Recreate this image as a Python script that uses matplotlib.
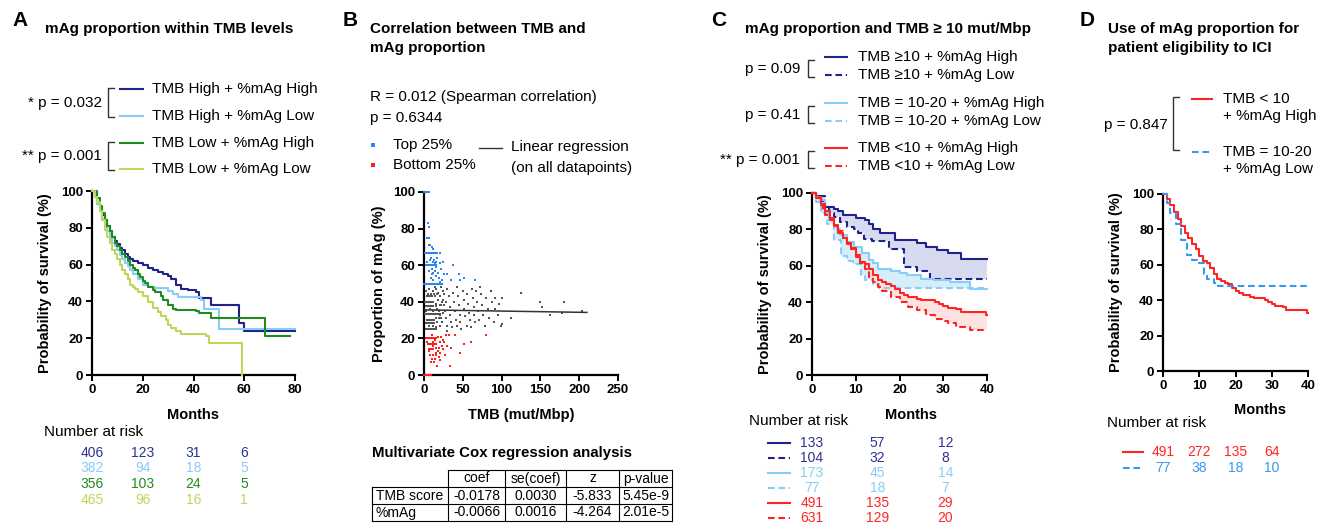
import numpy as np
import matplotlib
matplotlib.use("Agg")
import matplotlib.pyplot as plt
from matplotlib import transforms

plt.rcParams["font.family"] = ["Liberation Sans", "DejaVu Sans"]

W, H = 1326, 523

# ── A: supervivencia por nivel de TMB x proporcion de mAg ────────────────
a_hh_t = [0, 1, 2, 3, 4, 5, 6, 7, 8, 9, 10, 11, 12, 13, 14, 15, 16, 18, 20,
          22, 24, 26, 28, 30, 31, 33, 35, 38, 41, 42, 47, 58, 60]
a_hh_s = [100, 97, 93, 90, 87, 84, 81, 78, 75, 73, 71, 69, 68, 66, 64, 63, 62,
          61, 60, 58, 57, 56, 55, 54, 52, 49, 47, 46, 45, 42, 38, 28, 24]
a_hl_t = [0, 1, 2, 3, 4, 5, 6, 7, 8, 9, 10, 11, 12, 13, 14, 15, 16, 18, 20,
          22, 25, 30, 32, 34, 43, 44, 50]
a_hl_s = [100, 97, 93, 89, 85, 81, 78, 75, 72, 70, 68, 65, 63, 61, 59, 57, 55,
          52, 49, 48, 47.5, 45.5, 44, 42.5, 41, 36, 25]
a_lh_t = [0, 2, 3, 4, 5, 6, 7, 8, 9, 10, 11, 12, 13, 14, 15, 16, 17, 18, 19,
          20, 21, 22, 24, 25, 27, 28, 30, 32, 33, 41, 42, 47, 68]
a_lh_s = [100, 96, 92, 88, 84, 81, 78, 75, 72, 70, 68, 66, 64, 62, 60, 58, 57,
          55, 53, 51, 50, 48, 46, 45, 43, 41, 38, 36, 35.5, 35, 33.5, 31, 21]
a_ll_t = [0, 1, 2, 3, 4, 5, 6, 7, 8, 9, 10, 11, 12, 13, 14, 15, 16, 17, 18,
          20, 22, 24, 26, 27, 29, 30, 31, 33, 35, 45, 46, 59]
a_ll_s = [100, 97, 94, 89, 84, 79, 75, 72, 68, 66, 63, 60, 57, 55, 52, 49, 48,
          46.5, 45, 43, 39.5, 36.5, 34, 32, 30, 27, 25.5, 24, 22.5, 21, 17.5, 0]
a_end = [80, 80, 78, 59]
a_labels = ["TMB High + %mAg High", "TMB High + %mAg Low",
            "TMB Low + %mAg High", "TMB Low + %mAg Low"]
a_pvals = ["* p = 0.032", "** p = 0.001"]
a_risk_times = [0, 20, 40, 60]
a_risk_hh = [406, 123, 31, 6]
a_risk_hl = [382, 94, 18, 5]
a_risk_lh = [356, 103, 24, 5]
a_risk_ll = [465, 96, 16, 1]

# ── B: TMB vs proporcion de mAg ──────────────────────────────────────────
b_top_pts = [(0.5, 100), (1.5, 100), (2.5, 100), (3.5, 100), (4.5, 100),
             (5.5, 100), (6.5, 100), (5, 83), (6, 81), (4, 75), (7, 75),
             (8, 71), (10, 70), (12, 69), (6, 71), (9, 64), (11, 62), (17, 64),
             (1, 66.7), (2, 66.7), (3, 66.7), (4, 66.7), (5, 66.7), (6, 66.7),
             (7, 66.7), (8, 66.7), (9, 66.7), (10, 66.7), (11, 66.7),
             (13, 66.7), (15, 66.7), (17, 66.7), (20, 66.7),
             (3, 60), (5, 60), (7, 60), (9, 60), (11, 60), (13, 60), (15, 60),
             (0.5, 50), (1.5, 50), (2.5, 50), (3.5, 50), (4.5, 50), (5.5, 50),
             (6.5, 50), (7.5, 50), (8.5, 50), (9.5, 50), (10.5, 50),
             (11.5, 50), (12.5, 50), (13.5, 50), (14.5, 50), (15.5, 50),
             (16.5, 50), (17.5, 50), (18.5, 50), (19.5, 50), (20.5, 50),
             (21.5, 50), (22.5, 50), (23.5, 50),
             (13, 63), (16, 62), (20, 61), (24, 62), (14, 57), (18, 56),
             (22, 58), (26, 55), (19, 53), (23, 52), (30, 55), (35, 52),
             (37, 60), (45, 55), (47, 52), (52, 53), (66, 52), (10, 55),
             (12, 52), (8, 63), (10, 58), (15, 54), (21, 51), (7, 57),
             (4, 62), (12, 56), (16, 59), (9, 53), (14, 61)]
b_bottom_pts = [(0.5, 0), (1.5, 0), (2.5, 0), (3.5, 0), (4.5, 0), (5.5, 0),
                (6.5, 0), (7.5, 0), (8.5, 0), (9.5, 0),
                (2, 20), (3, 20), (4, 20), (5, 20), (6, 20), (7, 20), (8, 20),
                (9, 20), (10, 20), (11, 20), (12, 20), (13, 20), (14, 20),
                (15, 20), (16, 20),
                (5, 16.7), (7, 16.7), (9, 16.7), (11, 16.7), (13, 16.7),
                (15, 16.7), (6, 14.3), (8, 14.3), (10, 14.3), (12, 14.3),
                (33, 5), (47, 12), (52, 17), (60, 18), (80, 22), (35, 15),
                (40, 22), (20, 8), (17, 5), (19, 10), (15, 12), (12, 11),
                (10, 9), (8, 11), (6, 17), (9, 7), (11, 18), (14, 19),
                (16, 15), (18, 13), (20, 18), (22, 21), (25, 14), (28, 22),
                (30, 16), (13, 7), (7, 13), (21, 12), (24, 19), (27, 11),
                (23, 16), (18, 21), (26, 18), (14, 9), (19, 15), (32, 22),
                (4, 18), (10, 22), (12, 16), (16, 11)]
b_gray_pts = [(1, 33.3), (2, 33.3), (3, 33.3), (4, 33.3), (5, 33.3),
              (6, 33.3), (7, 33.3), (8, 33.3), (9, 33.3), (10, 33.3),
              (11, 33.3), (12, 33.3), (13, 33.3), (14, 33.3), (16, 33.3),
              (18, 33.3), (20, 33.3),
              (2, 25), (3, 25), (4, 25), (5, 25), (6, 25), (7, 25), (8, 25),
              (9, 25), (10, 25), (12, 25), (14, 25), (16, 25),
              (1, 40), (2, 40), (3, 40), (4, 40), (5, 40), (6, 40), (7, 40),
              (8, 40), (10, 40), (12, 40),
              (3, 28.6), (5, 28.6), (7, 28.6), (9, 28.6), (11, 28.6),
              (13, 28.6), (4, 42.9), (6, 42.9), (8, 42.9), (10, 42.9),
              (14, 42.9), (3, 37.5), (5, 37.5), (7, 37.5), (9, 37.5),
              (12, 37.5), (15, 37.5), (4, 30), (6, 30), (8, 30), (10, 30),
              (13, 30), (5, 44.4), (9, 44.4), (13, 44.4), (17, 44.4),
              (2, 46), (6, 47), (11, 46), (14, 48), (3, 35), (8, 36),
              (11, 35), (16, 39), (18, 41), (19, 35), (21, 33), (20, 38),
              (23, 40), (22, 31), (12, 27), (17, 29), (15, 31), (7, 27),
              (15, 47), (18, 45), (20, 43), (22, 48), (24, 46), (25, 41),
              (26, 38), (27, 35), (28, 31), (29, 27), (30, 24), (17, 36),
              (19, 31), (21, 27), (23, 29), (16, 26), (22, 38), (24, 34),
              (26, 44), (28, 40), (30, 47), (32, 43), (33, 37), (34, 33),
              (35, 29), (36, 26), (38, 45), (39, 40), (40, 35), (41, 30),
              (42, 27), (43, 48), (44, 43), (45, 38), (46, 33), (47, 29),
              (48, 25), (50, 46), (51, 41), (52, 36), (53, 32), (55, 27),
              (56, 44), (57, 39), (58, 34), (59, 30), (60, 26), (62, 47),
              (63, 42), (64, 37), (65, 33), (66, 29), (67, 46), (68, 40),
              (70, 35), (71, 30), (72, 48), (74, 44), (75, 38), (76, 33),
              (78, 27), (80, 42), (82, 36), (84, 31), (86, 46), (88, 40),
              (90, 29), (91, 36), (92, 42), (95, 33), (97, 39), (99, 27),
              (100, 42), (101, 28), (112, 31), (125, 45), (150, 40),
              (152, 37), (163, 33), (178, 34), (181, 40), (203, 35)]
b_reg_x = [0, 210]
b_reg_y = [35.6, 34.2]
cox_cols = ["coef", "se(coef)", "z", "p-value"]
cox_rows = ["TMB score", "%mAg"]
cox_vals = [["-0.0178", "0.0030", "-5.833", "5.45e-9"],
            ["-0.0066", "0.0016", "-4.264", "2.01e-5"]]

# ── C: proporcion de mAg y TMB >= 10 ─────────────────────────────────────
c_hi10h_t = [0, 1, 2, 3, 5, 6, 7, 10, 12, 13, 14, 15.5, 19, 24, 26, 28.5, 31, 34]
c_hi10h_s = [100, 98.5, 95.5, 92.5, 91, 90, 88, 86.5, 85, 83, 80, 78, 74, 72.5,
             70.5, 68.5, 67, 63.5]
c_hi10l_t = [0, 1, 3, 3.8, 5, 6.5, 8, 9.5, 10.5, 11.8, 13.7, 17.5, 21, 24, 27]
c_hi10l_s = [100, 98.5, 92, 89, 87, 84, 81.5, 80, 78, 74.5, 73.5, 69, 59.5, 57, 53]
c_mid_h_t = [0, 1, 2, 3, 3.8, 5, 5.7, 6.5, 8, 9.5, 11.4, 13, 14, 15, 18, 20,
             21.7, 24.8, 27.8, 31.6, 36]
c_mid_h_s = [100, 98, 96, 89, 85, 82.5, 80, 77, 73, 70.5, 67, 63, 61.5, 58, 57,
             56, 55, 53, 52, 51, 47]
c_mid_l_t = [0, 1, 2, 3.5, 5, 6.6, 8, 9.4, 11.2, 12.1, 14, 15.3]
c_mid_l_s = [100, 95, 89, 83, 74, 65.5, 62.5, 61, 55, 52, 50, 48]
c_lo_h_t = [0, 1, 2, 3, 4, 5, 6, 7, 8, 9, 10, 11, 12, 13, 14, 15, 16, 17, 18,
            19, 20, 21, 22, 24, 25, 28, 29, 30, 31, 33, 34, 39.8]
c_lo_h_s = [100, 97, 94, 90, 86, 82, 78, 75, 72, 69, 65, 62, 61, 58, 55, 52, 51,
            50, 49, 47, 45, 44, 43, 42, 41, 40, 39, 38, 37, 36, 34.5, 33]
c_lo_l_t = [0, 1, 2, 2.5, 3, 4, 5, 6, 7, 8, 9, 10, 11, 12, 13, 14, 15, 16, 18,
            20, 22, 24, 26, 28, 30, 31, 33, 36]
c_lo_l_s = [100, 98, 93.5, 90, 88, 85, 82.5, 79, 75, 72.5, 70, 66, 61.5, 58, 54,
            51, 48.5, 46, 43, 40, 37.5, 35.5, 33, 31, 29.5, 28.5, 26.5, 24.5]
c_labels = ["TMB \u226510 + %mAg High", "TMB \u226510 + %mAg Low",
            "TMB = 10-20 + %mAg High", "TMB = 10-20 + %mAg Low",
            "TMB <10 + %mAg High", "TMB <10 + %mAg Low"]
c_pvals = ["p = 0.09", "p = 0.41", "** p = 0.001"]
c_risk_times = [0, 15, 30.5]
c_risk = [[133, 57, 12], [104, 32, 8], [173, 45, 14],
          [77, 18, 7], [491, 135, 29], [631, 129, 20]]

# ── D: elegibilidad a ICI ────────────────────────────────────────────────
d_labels = [["TMB < 10", "+ %mAg High"], ["TMB = 10-20", "+ %mAg Low"]]
d_pval = "p = 0.847"
d_risk_times = [0, 10, 20, 30]
d_risk_red = [491, 272, 135, 64]
d_risk_blue = [77, 38, 18, 10]

NAVY, LBLUE, GREEN, YGREEN = "#1f2288", "#87cdf7", "#1f8c1f", "#bed65c"
NAVY_TXT = "#2e3192"
RED, BLUE = "#ff2424", "#3797f5"
DASH = (3.2, 1.8)

fig = plt.figure(figsize=(W / 100, H / 100), dpi=100)
ov = fig.add_axes([0, 0, 1, 1])
ov.set_xlim(0, W), ov.set_ylim(H, 0), ov.axis("off")


def panel_axes(x0, x1, ytop, ybot):
    return fig.add_axes([x0 / W, 1 - ybot / H, (x1 - x0) / W, (ybot - ytop) / H])


def estilo(ax, xmax, xticks, ylabel, xlabel, ylab_x, xlab_xy):
    ax.set_xlim(0, xmax), ax.set_ylim(0, 100)
    for sp in ("top", "right"):
        ax.spines[sp].set_visible(False)
    for sp in ("left", "bottom"):
        ax.spines[sp].set_linewidth(1.6)
    ax.set_xticks(xticks, [str(v) for v in xticks], fontweight="bold")
    yt = [0, 20, 40, 60, 80, 100]
    ax.set_yticks(yt, [str(v) for v in yt], fontweight="bold")
    ax.tick_params(width=1.4, length=4.5, labelsize=9.5, pad=2)
    ax.set_ylabel(ylabel, fontsize=10.5, fontweight="bold")
    ax.yaxis.set_label_coords(ylab_x, 0.5)
    ax.set_xlabel(xlabel, fontsize=10.5, fontweight="bold")
    ax.xaxis.set_label_coords(*xlab_xy)


def km(ax, t, s, t_end, color, dashed=False):
    kw = dict(dashes=DASH) if dashed else {}
    ax.step(list(t) + [t_end], list(s) + [s[-1]], where="post", color=color,
            lw=1.5, clip_on=False, zorder=3, **kw)


def step_at(t, s, grid):
    t, s = np.asarray(t), np.asarray(s)
    return s[np.searchsorted(t, grid, side="right") - 1]


def sombra(ax, t1, s1, t2, s2, t_end, color):
    grid = np.union1d(np.union1d(t1, t2), [t_end])
    ax.fill_between(grid, step_at(t1, s1, grid), step_at(t2, s2, grid),
                    step="post", color=color, lw=0, zorder=1)


def corchete(x, y0, y1):
    ov.plot([x + 6, x, x, x + 6], [y0, y0, y1, y1], color="#333333", lw=1.0)


def muestra(x0, x1, y, color, dashed=False):
    kw = dict(dashes=DASH) if dashed else {}
    ov.plot([x0, x1], [y, y], color=color, lw=1.5, **kw)


def cabecera(letra, xl, titulo, xt):
    ov.text(xl, 21, letra, fontsize=15, fontweight="bold", va="center")
    for i, linea in enumerate(titulo):
        ov.text(xt, 29 + 19 * i, linea, fontsize=11, fontweight="bold",
                va="center")


# ── panel A ──
axA = panel_axes(92, 295, 191, 375)
estilo(axA, 80, [0, 20, 40, 60, 80], "Probability of survival (%)", "Months",
       -0.195, (0.5, -0.18))
a_series = [(a_hh_t, a_hh_s, NAVY), (a_hl_t, a_hl_s, LBLUE),
            (a_lh_t, a_lh_s, GREEN), (a_ll_t, a_ll_s, YGREEN)]
for (t, s, c), te in zip(a_series, a_end):
    km(axA, t, s, te, c)
cabecera("A", 12, ["mAg proportion within TMB levels"], 45)
a_rows = [89, 116, 143, 169]
for (t, s, c), lab, y in zip(a_series, a_labels, a_rows):
    muestra(120, 143, y, c)
    ov.text(152, y, lab, fontsize=11, va="center")
for k, p in enumerate(a_pvals):
    y0, y1 = a_rows[2 * k], a_rows[2 * k + 1]
    corchete(108, y0 - 1, y1 + 1)
    ov.text(102, (y0 + y1) / 2, p, fontsize=11, va="center", ha="right")
trA = transforms.blended_transform_factory(axA.transData, ov.transData)
ov.text(44, 432, "Number at risk", fontsize=11, va="center")
a_risk_cols = [NAVY_TXT, LBLUE, GREEN, YGREEN]
for i, (fila, c) in enumerate(zip([a_risk_hh, a_risk_hl, a_risk_lh, a_risk_ll],
                                  a_risk_cols)):
    for t, n in zip(a_risk_times, fila):
        ov.text(t, 453 + 15.5 * i, str(n), transform=trA, color=c,
                fontsize=10, ha="center", va="center")

# ── panel B ──
axB = panel_axes(424, 618, 192, 375)
axB.set_xlim(0, 250), axB.set_ylim(0, 100)
for sp in ("top", "right"):
    axB.spines[sp].set_visible(False)
for sp in ("left", "bottom"):
    axB.spines[sp].set_linewidth(1.6)
bx = [0, 50, 100, 150, 200, 250]
axB.set_xticks(bx, [str(v) for v in bx], fontweight="bold")
by = [0, 20, 40, 60, 80, 100]
axB.set_yticks(by, [str(v) for v in by], fontweight="bold")
axB.tick_params(width=1.4, length=4.5, labelsize=9.5, pad=2)
axB.set_ylabel("Proportion of mAg (%)", fontsize=10.5, fontweight="bold")
axB.yaxis.set_label_coords(-0.198, 0.5)
axB.set_xlabel("TMB (mut/Mbp)", fontsize=10.5, fontweight="bold")
axB.xaxis.set_label_coords(0.5, -0.18)
for pts, c in ((b_gray_pts, "#555555"), (b_top_pts, "#2a86f2"),
               (b_bottom_pts, "#ff1f1f")):
    xy = np.array(pts)
    axB.scatter(xy[:, 0], xy[:, 1], s=4, marker="s", color=c, lw=0,
                clip_on=False, zorder=3)
axB.plot(b_reg_x, b_reg_y, color="#333333", lw=1.1, zorder=4)
cabecera("B", 343, ["Correlation between TMB and", "mAg proportion"], 370)
ov.text(370, 97, "R = 0.012 (Spearman correlation)", fontsize=11, va="center")
ov.text(370, 118, "p = 0.6344", fontsize=11, va="center")
ov.scatter([373], [145], s=6, marker="s", color="#2a86f2", lw=0)
ov.scatter([373], [165], s=6, marker="s", color="#ff1f1f", lw=0)
ov.text(393, 145, "Top 25%", fontsize=11, va="center")
ov.text(393, 165, "Bottom 25%", fontsize=11, va="center")
ov.plot([479, 502], [148, 148], color="#333333", lw=1.0)
ov.text(511, 147, "Linear regression", fontsize=11, va="center")
ov.text(511, 168, "(on all datapoints)", fontsize=11, va="center")

# tabla de Cox dibujada a mano: la celda de arriba a la izquierda va sin borde
ov.text(372, 453, "Multivariate Cox regression analysis", fontsize=10.8,
        fontweight="bold", va="center")
col_x = [372, 448, 505, 566, 619, 672]
row_y = [470, 487, 504, 521]
lk = dict(color="black", lw=0.8)
ov.plot([col_x[1], col_x[-1]], [row_y[0], row_y[0]], **lk)
for y in row_y[1:]:
    ov.plot([col_x[0], col_x[-1]], [y, y], **lk)
ov.plot([col_x[0], col_x[0]], [row_y[1], row_y[-1]], **lk)
for x in col_x[1:]:
    ov.plot([x, x], [row_y[0], row_y[-1]], **lk)
for j, lab in enumerate(cox_cols):
    ov.text((col_x[j + 1] + col_x[j + 2]) / 2, (row_y[0] + row_y[1]) / 2,
            lab, fontsize=10, ha="center", va="center")
for i, (rlab, fila) in enumerate(zip(cox_rows, cox_vals)):
    yc = (row_y[i + 1] + row_y[i + 2]) / 2
    ov.text(col_x[0] + 4, yc, rlab, fontsize=10, va="center")
    for j, v in enumerate(fila):
        ov.text((col_x[j + 1] + col_x[j + 2]) / 2, yc, v, fontsize=10,
                ha="center", va="center")

# ── panel C ──
axC = panel_axes(812, 987, 193, 375)
estilo(axC, 40, [0, 10, 20, 30, 40], "Probability of survival (%)", "Months",
       -0.226, (0.566, -0.18))
sombra(axC, c_hi10h_t, c_hi10h_s, c_hi10l_t, c_hi10l_s, 40, "#d8dbf0")
sombra(axC, c_mid_h_t, c_mid_h_s, c_mid_l_t, c_mid_l_s, 40, "#d6eef8")
sombra(axC, c_lo_h_t, c_lo_h_s, c_lo_l_t, c_lo_l_s, 40, "#fde2e2")
c_series = [(c_hi10h_t, c_hi10h_s, NAVY, False), (c_hi10l_t, c_hi10l_s, NAVY, True),
            (c_mid_h_t, c_mid_h_s, LBLUE, False), (c_mid_l_t, c_mid_l_s, LBLUE, True),
            (c_lo_h_t, c_lo_h_s, RED, False), (c_lo_l_t, c_lo_l_s, RED, True)]
for t, s, c, d in c_series:
    km(axC, t, s, 40, c, d)
cabecera("C", 711, ["mAg proportion and TMB \u2265 10 mut/Mbp"], 745)
c_rows = [57, 75, 103, 121, 148, 166]
for (t, s, c, d), lab, y in zip(c_series, c_labels, c_rows):
    muestra(825, 847, y, c, d)
    ov.text(858, y, lab, fontsize=11, va="center")
for k, p in enumerate(c_pvals):
    y0, y1 = c_rows[2 * k], c_rows[2 * k + 1]
    corchete(808, y0 + 3, y1 + 2)
    ov.text(800, (y0 + y1) / 2 + 3, p, fontsize=11, va="center", ha="right")
trC = transforms.blended_transform_factory(axC.transData, ov.transData)
ov.text(749, 421, "Number at risk", fontsize=11, va="center")
c_risk_cols = [NAVY_TXT, NAVY_TXT, LBLUE, LBLUE, RED, RED]
for i, (fila, c, (_, _, lc, d)) in enumerate(zip(c_risk, c_risk_cols, c_series)):
    y = 443 + 14.9 * i
    muestra(768, 790, y, lc, d)
    for t, n in zip(c_risk_times, fila):
        ov.text(t, y, str(n), transform=trC, color=c, fontsize=10,
                ha="center", va="center")

# ── panel D ──
axD = panel_axes(1163, 1308, 194, 371)
estilo(axD, 40, [0, 10, 20, 30, 40], "Probability of survival (%)", "Months",
       -0.279, (0.669, -0.18))
km(axD, c_lo_h_t, c_lo_h_s, 40, RED)
km(axD, c_mid_l_t, c_mid_l_s, 40, BLUE, True)
cabecera("D", 1080, ["Use of mAg proportion for", "patient eligibility to ICI"], 1108)
muestra(1192, 1212, 99, RED)
muestra(1192, 1212, 152, BLUE, True)
for (l1, l2), y in zip(d_labels, [99, 152]):
    ov.text(1223, y, l1, fontsize=11, va="center")
    ov.text(1223, y + 17, l2, fontsize=11, va="center")
corchete(1173, 97, 150)
ov.text(1168, 125, d_pval, fontsize=11, va="center", ha="right")
trD = transforms.blended_transform_factory(axD.transData, ov.transData)
ov.text(1107, 423, "Number at risk", fontsize=11, va="center")
for i, (fila, c, d) in enumerate([(d_risk_red, RED, False),
                                  (d_risk_blue, BLUE, True)]):
    y = 452 + 16 * i
    muestra(1123, 1143, y, c, d)
    for t, n in zip(d_risk_times, fila):
        ov.text(t, y, str(n), transform=trD, color=c, fontsize=10,
                ha="center", va="center")

fig.savefig("out.png", dpi=100)
